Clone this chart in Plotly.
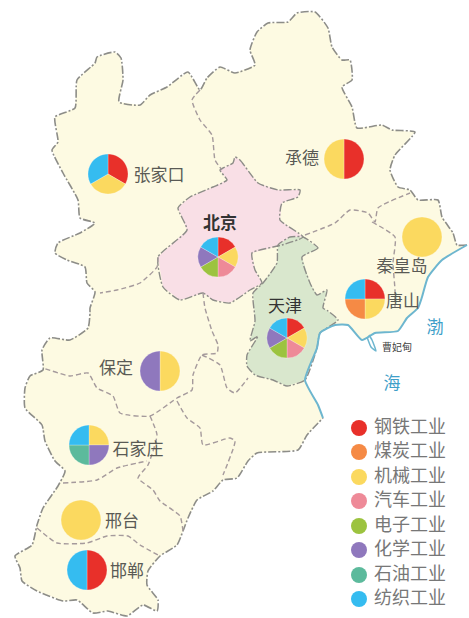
import plotly.graph_objects as go

industries = ["钢铁工业", "煤炭工业", "机械工业", "汽车工业", "电子工业", "化学工业", "石油工业", "纺织工业"]
industry_colors = ["#e8302a", "#f58a45", "#fbd95f", "#ee8a98", "#9cc33f", "#8f78bd", "#5cba9c", "#35bcf0"]

cities = ["张家口", "北京", "承德", "秦皇岛", "唐山", "天津", "保定", "石家庄", "邢台", "邯郸"]
city_x = [108, 218, 344, 422, 365, 287, 160, 89, 81, 87]
city_y = [174, 257, 159, 237, 299, 338, 371, 445, 520, 570]
city_industries = [
    ["钢铁工业", "机械工业", "纺织工业"],
    ["钢铁工业", "机械工业", "汽车工业", "电子工业", "化学工业", "纺织工业"],
    ["钢铁工业", "机械工业"],
    ["机械工业"],
    ["钢铁工业", "机械工业", "煤炭工业", "纺织工业"],
    ["钢铁工业", "机械工业", "汽车工业", "电子工业", "化学工业", "纺织工业"],
    ["机械工业", "化学工业"],
    ["机械工业", "化学工业", "石油工业", "纺织工业"],
    ["机械工业"],
    ["钢铁工业", "纺织工业"],
]
label_x = [159, 220, 302, 402, 403, 285, 116, 138, 122, 127]
label_y = [177, 225, 160, 268, 303, 308, 370, 451, 523, 573]

north_border = [(467,245),(457,245),(453,233),(442,217),(438,200),(418,200),(410,190),(398,187),(390,170),(395,155),(415,132),(392,130),(382,125),(357,128),(352,107),(342,87),(352,80),(350,60),(342,60),(332,47),(328,28),(315,12),(297,13),(288,22),(268,23),(257,32),(250,50),(255,65),(235,73),(220,67),(207,78),(200,90),(188,72),(167,87),(150,95),(140,105),(119,102),(123,80),(121,58),(115,52),(97,57),(95,63),(77,80),(75,108),(55,117),(58,142),(52,150),(63,173),(78,200),(80,218),(95,223),(80,233),(58,243),(55,253),(67,260),(85,267),(87,283),(95,292),(90,308),(90,313),(88,328),(70,340),(50,338),(42,350),(43,370),(30,376),(25,388),(25,408),(42,425),(45,441),(55,461),(65,471),(58,486),(43,508),(37,525),(32,545),(15,556),(20,568),(22,581),(37,591),(63,601),(77,600),(93,613),(108,611),(127,616),(143,605),(157,611),(158,600),(147,585),(148,571),(160,556),(177,545),(183,531),(188,518),(197,500),(213,491),(223,480),(237,478),(248,461),(257,453),(298,450),(307,435),(323,418)]
coast = [(323,418),(318,405),(305,380),(317,348),(320,333),(335,325),(348,325),(362,340),(375,333),(398,331),(407,318),(418,308),(422,297),(428,277),(442,260),(467,245)]
caofeidian_spit = [(367,337),(371,347),(376,351),(372,340),(369,335)]
beijing = [(235,157),(240,160),(258,183),(278,190),(300,190),(298,197),(282,203),(280,220),(303,237),(282,245),(252,253),(255,270),(262,283),(250,290),(230,303),(213,300),(203,293),(180,300),(163,287),(158,257),(187,230),(178,208),(190,197),(213,187),(227,180),(220,170),(233,163),(235,157)]
tianjin = [(303,237),(318,248),(302,257),(310,283),(317,295),(327,290),(323,308),(328,311),(338,320),(320,333),(317,348),(305,380),(287,386),(273,380),(255,375),(247,366),(247,355),(258,336),(250,341),(255,321),(253,293),(263,283),(277,263),(278,245),(290,237),(303,237)]
inner_borders = [
    [(200,90),(192,100),(200,120),(212,135),(215,160),(222,170)],
    [(305,235),(335,223),(350,210),(368,213),(375,222),(378,208),(410,193)],
    [(372,222),(395,237),(393,263),(395,290),(395,308)],
    [(158,257),(157,267),(140,283),(117,290),(100,293)],
    [(203,293),(205,308),(212,331),(218,345),(217,353),(202,355),(193,375),(192,390),(177,398),(150,416),(120,413),(113,396),(97,388),(88,373),(70,376),(43,368)],
    [(202,355),(220,365),(227,388),(235,393),(248,378)],
    [(177,401),(187,418),(200,428),(203,445),(230,438),(235,441),(223,475)],
    [(150,416),(157,435),(148,465),(138,478),(153,490),(160,501),(180,516),(183,531)],
    [(63,483),(97,480),(117,468),(147,461)],
    [(37,528),(57,543),(87,543),(107,536),(128,536),(140,545),(160,556)],
]

sea_labels = ["渤", "海"]
sea_x = [435, 392]
sea_y = [329, 385]
place_labels = ["曹妃甸"]
place_x = [397]
place_y = [348]

legend_x = [359] * 8
legend_y = [428, 452, 477, 501, 526, 550, 575, 599]
legend_text_x = [410] * 8

W, H = 469, 618
PIE_R = 20
CJK = "Noto Sans CJK SC"
BORDER = "#8d8d88"
fig = go.Figure()


def xy(points):
    return [p[0] for p in points], [p[1] for p in points]


def area(points, fill):
    x, y = xy(points)
    fig.add_trace(go.Scatter(x=x, y=y, mode="lines", fill="toself", fillcolor=fill,
                             line=dict(width=0, color=fill), hoverinfo="skip", showlegend=False))


def edge(points, color, width, dash):
    x, y = xy(points)
    fig.add_trace(go.Scatter(x=x, y=y, mode="lines", hoverinfo="skip", showlegend=False,
                             line=dict(color=color, width=width, dash=dash, shape="spline", smoothing=0.5)))


area(north_border + coast[1:], "#fdfae2")
area(beijing, "#f9dfe6")
area(tianjin, "#d9e7cd")
edge(north_border, BORDER, 1.6, "8px,2px,2px,2px")
edge(beijing, BORDER, 1.4, "8px,2px,2px,2px")
edge(tianjin, BORDER, 1.4, "8px,2px,2px,2px")
for b in inner_borders:
    edge(b, "#a59a9c", 1.4, "5px,3px")
edge(coast, "#6db6cf", 2, "solid")
edge(caofeidian_spit, "#6db6cf", 1.5, "solid")

color_of = dict(zip(industries, industry_colors))
for name, cx, cy, parts in zip(cities, city_x, city_y, city_industries):
    fig.add_trace(go.Pie(
        labels=parts, values=[1] * len(parts), name=name, sort=False, direction="clockwise", rotation=0,
        textinfo="none", showlegend=False,
        marker=dict(colors=[color_of[p] for p in parts], line=dict(color="rgba(255,255,255,0.5)", width=0.5)),
        domain=dict(x=[(cx - PIE_R) / W, (cx + PIE_R) / W],
                    y=[1 - (cy + PIE_R) / H, 1 - (cy - PIE_R) / H]),
    ))

for name, x, y in zip(cities, label_x, label_y):
    strong = name in ("北京", "天津")
    fig.add_trace(go.Scatter(x=[x], y=[y], mode="text", text=[name], showlegend=False,
                             textfont=dict(family=CJK, size=17, color="#333" if strong else "#5a5a55",
                                           weight=700 if name == "北京" else 400)))

fig.add_trace(go.Scatter(x=sea_x, y=sea_y, mode="text", text=sea_labels, showlegend=False,
                         textfont=dict(family=CJK, size=17, color="#3f9fc9")))
fig.add_trace(go.Scatter(x=place_x, y=place_y, mode="text", text=place_labels, showlegend=False,
                         textfont=dict(family=CJK, size=10, color="#444")))

fig.add_trace(go.Scatter(x=legend_x, y=legend_y, mode="markers", showlegend=False,
                         marker=dict(size=16, color=industry_colors, line=dict(width=0))))
fig.add_trace(go.Scatter(x=legend_text_x, y=legend_y, mode="text", text=industries, showlegend=False,
                         textfont=dict(family=CJK, size=18, color="#777777")))

fig.update_layout(
    width=W, height=H, margin=dict(l=0, r=0, t=0, b=0), paper_bgcolor="white", plot_bgcolor="white",
    xaxis=dict(range=[0, W], visible=False), yaxis=dict(range=[H, 0], visible=False),
    showlegend=False,
)
fig.write_html("out.html", config={"displayModeBar": False},
               post_script="document.body.style.margin='0';")
